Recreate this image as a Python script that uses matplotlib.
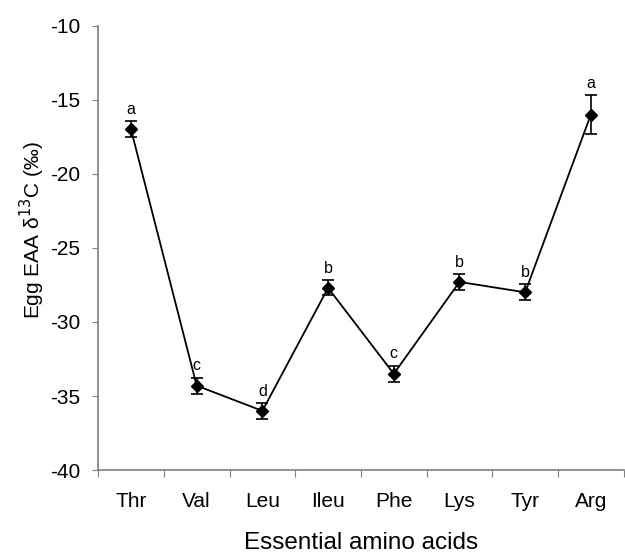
import numpy as np
import matplotlib
matplotlib.use("Agg")
from matplotlib import pyplot as plt

plt.rcParams['font.family'] = ['Liberation Sans', 'DejaVu Sans']
plt.rcParams['axes.unicode_minus'] = False

# wartości
amino_acids = ['Thr', 'Val', 'Leu', 'Ileu', 'Phe', 'Lys', 'Tyr', 'Arg']
delta13c = [-17.0, -34.3, -36.0, -27.7, -33.5, -27.3, -28.0, -16.0]
errors = [0.55, 0.55, 0.55, 0.5, 0.55, 0.55, 0.55, 1.3]
letters = ['a', 'c', 'd', 'b', 'c', 'b', 'b', 'a']

x = np.arange(len(amino_acids))

fig = plt.figure(figsize=(6.25, 5.57), dpi=100)
ax = fig.add_axes([0.157, 0.156, 0.841, 0.798])

ax.errorbar(x, delta13c, yerr=errors, color='black', linewidth=1.3,
            marker='D', markersize=6.5, elinewidth=1.2, capsize=4.5,
            capthick=1.2)

for xi, yi, e, lab in zip(x, delta13c, errors, letters):
    ax.annotate(lab, (xi, yi + e), xytext=(0, 3), textcoords='offset points',
                ha='center', va='bottom', fontsize=11.5)

ax.set_xlim(-0.5, len(amino_acids) - 0.5)
ax.set_ylim(-40, -10)
ax.set_yticks(np.arange(-40, -9, 5))
ax.set_xticks(np.arange(-0.5, len(amino_acids)), minor=False)
ax.set_xticklabels([])
ax.set_xticks(x, minor=True)
ax.set_xticklabels(amino_acids, minor=True, fontsize=15)
ax.tick_params(axis='x', which='minor', length=0, pad=16)
ax.tick_params(axis='x', which='major', length=5, color='#808080')
ax.tick_params(axis='y', length=4, color='#808080', labelsize=15, pad=9)

for side in ('top', 'right'):
    ax.spines[side].set_visible(False)
for side in ('left', 'bottom'):
    ax.spines[side].set_color('#808080')
    ax.spines[side].set_linewidth(1.2)

ax.set_ylabel('Egg EAA δ$^{13}$C (‰)', fontsize=15, va='center')
ax.yaxis.set_label_coords(-0.125, 0.54)
ax.set_xlabel('Essential amino acids', fontsize=17.5, va='center')
ax.xaxis.set_label_coords(0.5, -0.163)

fig.savefig('out.png', dpi=100)
